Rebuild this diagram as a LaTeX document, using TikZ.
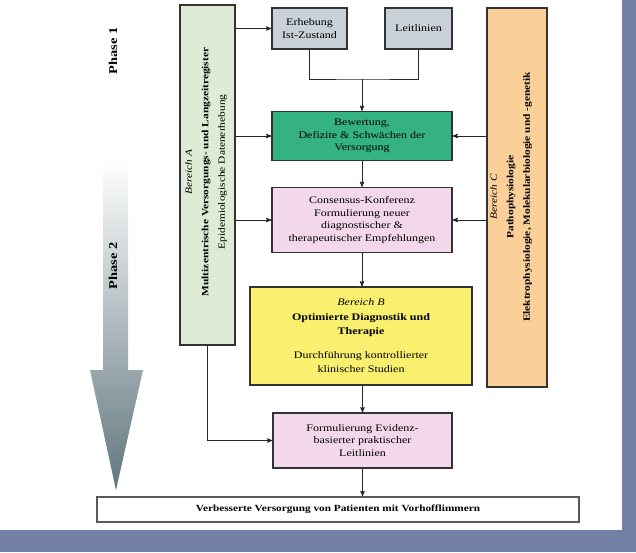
\documentclass[tikz,border=0pt]{standalone}
\usepackage{fontspec}
\setmainfont{Liberation Serif}[FakeStretch=1.2]
\usetikzlibrary{arrows,calc}

\definecolor{rahmenblau}{RGB}{116,129,166}
\definecolor{graublau}{RGB}{200,208,216}
\definecolor{tuerkis}{RGB}{52,178,130}
\definecolor{rosa}{RGB}{242,216,234}
\definecolor{gelb}{RGB}{250,240,112}
\definecolor{apricot}{RGB}{250,208,152}
\definecolor{hellgruen}{RGB}{222,235,214}
\definecolor{pfeilgrau}{RGB}{96,118,126}

\begin{document}
\begin{tikzpicture}[x=1pt, y=-1pt, >=stealth',
    box/.style={draw=black!80, line width=1.2pt, align=center,
        font=\fontsize{10}{12.5}\selectfont, inner sep=1pt},
    bar/.style={draw=black!80, line width=1.2pt},
    bartext/.style={rotate=90, align=center, font=\fontsize{9.5}{16.5}\selectfont},
    phase/.style={rotate=90, font=\fontsize{12}{14}\selectfont\bfseries},
    link/.style={draw=black!85, line width=0.9pt}]
    \useasboundingbox (0,0) rectangle (636,552);
    % Background and frame
    \fill[white] (0,0) rectangle (636,552);
    \fill[rahmenblau] (622,0) rectangle (636,552);
    \fill[rahmenblau] (0,530) rectangle (636,552);

    % Phase arrow
    \shade[top color=white, middle color=black!28, bottom color=pfeilgrau]
        (103,158) -- (128,158) -- (128,370) -- (143,370) -- (116,490)
        -- (90,370) -- (103,370) -- cycle;
    \node[phase] (phase1) at (113,51) {Phase 1};
    \node[phase] (phase2) at (113,266) {Phase 2};

    % Side bars
    \node[bar, fill=hellgruen, minimum width=55, minimum height=340] (bereichA) at (207.5,175) {};
    \node[bartext] at (206,172) {\textit{Bereich A}\\
        \textbf{Multizentrische Versorgungs- und Langzeitregister}\\
        Epidemiologische Datenerhebung};
    \node[bar, fill=apricot, minimum width=60, minimum height=379] (bereichC) at (517,197.5) {};
    \node[bartext] at (511,197) {\textit{Bereich C}\\
        \textbf{Pathophysiologie}\\
        \textbf{Elektrophysiologie, Molekularbiologie und -genetik}};

    % Boxes
    \node[box, fill=graublau, minimum width=75, minimum height=41] (erhebung) at (309.5,28.5) {Erhebung\\Ist-Zustand};
    \node[box, fill=graublau, minimum width=67, minimum height=41] (leitlinien) at (418.5,28.5) {Leitlinien};
    \node[box, fill=tuerkis, minimum width=180, minimum height=49] (bewertung) at (362,136)
        {Bewertung,\\Defizite \& Schwächen der\\Versorgung};
    \node[box, fill=rosa, minimum width=180, minimum height=65] (consensus) at (362,220)
        {Consensus-Konferenz\\Formulierung neuer\\diagnostischer \&\\therapeutischer Empfehlungen};
    \node[box, fill=gelb, minimum width=222, minimum height=98, font=\fontsize{10}{14.5}\selectfont] (bereichB) at (361,336)
        {\textit{Bereich B}\\\textbf{Optimierte Diagnostik und}\\\textbf{Therapie}\\[9pt]
         Durchführung kontrollierter\\klinischer Studien};
    \node[box, fill=rosa, minimum width=179, minimum height=55] (formulierung) at (362.5,440.5)
        {Formulierung Evidenz-\\basierter praktischer\\Leitlinien};
    \node[box, draw=black!65, line width=1.8pt, fill=white, minimum width=482, minimum height=25,
        font=\fontsize{9.4}{12}\selectfont] (ziel) at (338,509.5)
        {\textbf{Verbesserte Versorgung von Patienten mit Vorhofflimmern}};

    % Connectors
    \coordinate (join) at (362,79);
    \draw[link] (erhebung.south) |- (join) -| (leitlinien.south);
    \draw[link,->] (join) -- (bewertung.north);
    \draw[link,->] (bewertung.south) -- (consensus.north);
    \draw[link,->] (consensus.south) -- (consensus.south |- bereichB.north);
    \draw[link,->] (formulierung.north |- bereichB.south) -- (formulierung.north);
    \draw[link,->] (formulierung.south) -- (formulierung.south |- ziel.north);
    \draw[link,->] (bereichA.east |- erhebung.west) -- (erhebung.west);
    \draw[link,->] (bereichA.east |- bewertung.west) -- (bewertung.west);
    \draw[link,->] (bereichA.east |- consensus.west) -- (consensus.west);
    \draw[link,->] (bereichA.south) |- (formulierung.west);
    \draw[link,->] (bereichC.west |- bewertung.east) -- (bewertung.east);
    \draw[link,->] (bereichC.west |- consensus.east) -- (consensus.east);
\end{tikzpicture}
\end{document}
